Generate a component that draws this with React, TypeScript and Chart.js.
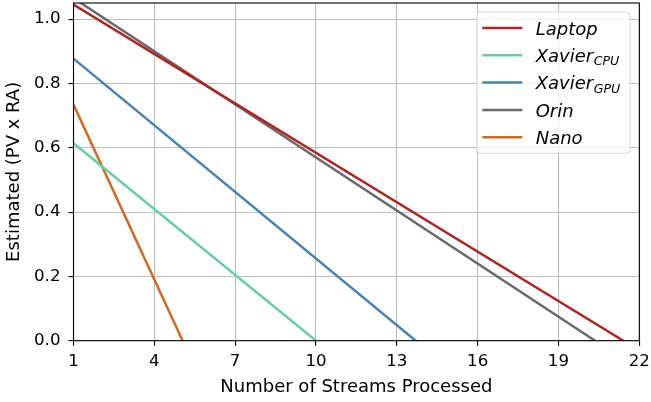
import React, { useEffect, useRef } from 'react';
import { Chart, registerables } from 'chart.js';

Chart.register(...registerables);

// ---- data ----
const seriesLabels = ['Laptop', 'Xavier_CPU', 'Xavier_GPU', 'Orin', 'Nano'];
const seriesColors = ['#b22222', '#66cdaa', '#4682b4', '#696969', '#d2691e'];

const laptopX = [1, 21.41];
const laptopY = [1.045, 0];
const xavierCpuX = [1, 10.0];
const xavierCpuY = [0.614, 0];
const xavierGpuX = [1, 13.7];
const xavierGpuY = [0.877, 0];
const orinX = [1, 20.36];
const orinY = [1.065, 0];
const nanoX = [1, 5.05];
const nanoY = [0.734, 0];

const xTicks = [1, 4, 7, 10, 13, 16, 19, 22];
const yTicks = [0, 0.2, 0.4, 0.6, 0.8, 1.0];
const xMin = 1;
const xMax = 22;
const yMin = 0;
const yMax = 1.05;

const xTitle = 'Number of Streams Processed';
const yTitle = 'Estimated (PV x RA)';

const seriesX = [laptopX, xavierCpuX, xavierGpuX, orinX, nanoX];
const seriesY = [laptopY, xavierCpuY, xavierGpuY, orinY, nanoY];

const FONT = "'DejaVu Sans', sans-serif";

const framePlugin = {
  id: 'frame',
  afterDatasetsDraw(chart: any) {
    const { ctx, chartArea: a } = chart;
    ctx.save();
    ctx.strokeStyle = '#000';
    ctx.lineWidth = 1.1;
    ctx.strokeRect(a.left, a.top, a.right - a.left, a.bottom - a.top);
    ctx.restore();
  },
};

const legendPlugin = {
  id: 'subLegend',
  afterDraw(chart: any) {
    const { ctx, chartArea: a } = chart;
    const w = 153.3;
    const h = 141.3;
    const right = a.right - 9.3;
    const left = right - w;
    const top = a.top + 9;
    const r = 3.6;
    ctx.save();
    ctx.beginPath();
    ctx.moveTo(left + r, top);
    ctx.arcTo(left + w, top, left + w, top + h, r);
    ctx.arcTo(left + w, top + h, left, top + h, r);
    ctx.arcTo(left, top + h, left, top, r);
    ctx.arcTo(left, top, left + w, top, r);
    ctx.closePath();
    ctx.fillStyle = 'rgba(255,255,255,0.8)';
    ctx.fill();
    ctx.strokeStyle = 'rgba(204,204,204,0.8)';
    ctx.lineWidth = 1;
    ctx.stroke();

    chart.data.datasets.forEach((ds: any, i: number) => {
      const y = top + 16 + i * 27.3;
      ctx.beginPath();
      ctx.strokeStyle = ds.borderColor;
      ctx.lineWidth = 2.5;
      ctx.moveTo(left + 5.6, y);
      ctx.lineTo(left + 45.6, y);
      ctx.stroke();

      const [main, sub] = String(ds.label).split('_');
      const tx = left + 59;
      const base = y + 6.7;
      ctx.fillStyle = '#000';
      ctx.textBaseline = 'alphabetic';
      ctx.textAlign = 'left';
      ctx.font = `italic 18px ${FONT}`;
      ctx.fillText(main, tx, base);
      if (sub) {
        const mw = ctx.measureText(main).width;
        ctx.font = `italic 12.6px ${FONT}`;
        ctx.fillText(sub, tx + mw + 0.5, base + 3.4);
      }
    });
    ctx.restore();
  },
};

export default function App() {
  const canvasRef = useRef<HTMLCanvasElement | null>(null);

  useEffect(() => {
    if (!canvasRef.current) return;
    const datasets = seriesLabels.map((label, i) => ({
      label,
      data: seriesX[i].map((x, j) => ({ x, y: seriesY[i][j] })),
      borderColor: seriesColors[i],
      backgroundColor: seriesColors[i],
      borderWidth: 2.5,
      pointRadius: 0,
      pointHoverRadius: 0,
      tension: 0,
      fill: false,
    }));

    const chart = new Chart(canvasRef.current, {
      type: 'line',
      data: { datasets },
      plugins: [framePlugin, legendPlugin],
      options: {
        animation: false,
        responsive: false,
        devicePixelRatio: 1,
        layout: { padding: { left: 0, top: 3, right: 11.7, bottom: 0 } },
        plugins: {
          legend: { display: false },
          tooltip: { enabled: false },
        },
        scales: {
          x: {
            type: 'linear',
            min: xMin,
            max: xMax,
            afterBuildTicks: (scale: any) => {
              scale.ticks = xTicks.map((v) => ({ value: v }));
            },
            afterFit: (scale: any) => {
              scale.height = 61.3;
              scale.paddingLeft = 0;
              scale.paddingRight = 0;
            },
            ticks: {
              autoSkip: false,
              maxRotation: 0,
              padding: 6,
              color: '#000',
              font: { family: FONT, size: 16.67 },
              callback: (v: any) => String(v),
            },
            grid: {
              color: '#bdbdbd',
              lineWidth: 1.1,
              tickColor: '#000',
              tickWidth: 1.1,
              tickLength: 5,
              drawTicks: true,
            },
            border: { display: false },
            title: {
              display: true,
              text: xTitle,
              color: '#000',
              font: { family: FONT, size: 18 },
              padding: { top: 0, bottom: 4.1 },
            },
          },
          y: {
            type: 'linear',
            min: yMin,
            max: yMax,
            afterBuildTicks: (scale: any) => {
              scale.ticks = yTicks.map((v) => ({ value: v }));
            },
            afterFit: (scale: any) => {
              scale.width = 73.5;
              scale.paddingTop = 0;
              scale.paddingBottom = 0;
            },
            ticks: {
              autoSkip: false,
              padding: 8,
              color: '#000',
              font: { family: FONT, size: 16.67 },
              callback: (v: any) => Number(v).toFixed(1),
            },
            grid: {
              color: '#bdbdbd',
              lineWidth: 1.1,
              tickColor: '#000',
              tickWidth: 1.1,
              tickLength: 5,
              drawTicks: true,
            },
            border: { display: false },
            title: {
              display: true,
              text: yTitle,
              color: '#000',
              font: { family: FONT, size: 18 },
              padding: { top: 3.4, bottom: 0 },
            },
          },
        },
      },
    } as any);

    return () => {
      chart.destroy();
    };
  }, []);

  return (
    <div style={{ position: 'fixed', left: 0, top: 0, width: 651, height: 402, background: '#fff' }}>
      <canvas ref={canvasRef} width={651} height={402} style={{ display: 'block', width: 651, height: 402 }} />
    </div>
  );
}
